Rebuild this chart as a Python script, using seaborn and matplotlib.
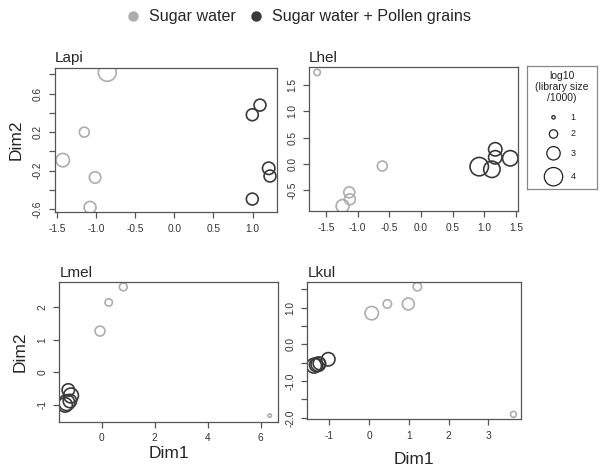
import numpy as np
import pandas as pd
import matplotlib
matplotlib.use("Agg")
import matplotlib.pyplot as plt
from matplotlib.lines import Line2D
import seaborn as sns

sns.set_style("white")
plt.rcParams["font.family"] = ["Liberation Sans", "DejaVu Sans"]
plt.rcParams["axes.unicode_minus"] = False

groups = ["Sugar water", "Sugar water + Pollen grains"]
colors = {"Sugar water": "#adadad", "Sugar water + Pollen grains": "#3a3a3a"}

# ---- data (Dim1, Dim2, log10(library size/1000), group) ----
lapi_x = [-0.855, -1.148, -1.423, -1.011, -1.075, 1.093, 0.995, 1.204, 1.221, 0.995]
lapi_y = [0.82, 0.20, -0.09, -0.27, -0.58, 0.48, 0.38, -0.175, -0.255, -0.494]
lapi_lib = [3.9, 2.3, 3.0, 2.6, 2.7, 2.7, 2.7, 2.8, 2.7, 2.7]
lapi_grp = [0, 0, 0, 0, 0, 1, 1, 1, 1, 1]

lhel_x = [-1.64, -0.612, -1.134, -1.123, -1.239, 0.918, 1.118, 1.171, 1.171, 1.408]
lhel_y = [1.74, -0.043, -0.544, -0.677, -0.805, -0.055, -0.106, 0.275, 0.123, 0.104]
lhel_lib = [1.6, 2.3, 2.5, 2.5, 2.9, 4.0, 3.6, 3.0, 3.0, 3.4]
lhel_grp = [0, 0, 0, 0, 0, 1, 1, 1, 1, 1]

lmel_x = [0.815, 0.264, -0.064, 6.34, -1.26, -1.16, -1.32, -1.20, -1.38]
lmel_y = [2.63, 2.15, 1.27, -1.33, -0.54, -0.71, -0.93, -0.88, -1.00]
lmel_lib = [1.9, 1.8, 2.3, 1.0, 2.8, 3.3, 3.5, 3.0, 3.2]
lmel_grp = [0, 0, 0, 0, 1, 1, 1, 1, 1]

lkul_x = [1.214, 0.459, 0.987, 0.067, 3.63, -1.025, -1.277, -1.385, -1.33, -1.25]
lkul_y = [1.57, 1.10, 1.10, 0.85, -1.905, -0.406, -0.54, -0.58, -0.56, -0.52]
lkul_lib = [2.0, 2.0, 2.7, 3.0, 1.5, 3.0, 3.2, 3.3, 3.0, 2.8]
lkul_grp = [0, 0, 0, 0, 0, 1, 1, 1, 1, 1]

legend_sizes = [1, 2, 3, 4]

panels = [
    dict(name="Lapi", x=lapi_x, y=lapi_y, lib=lapi_lib, grp=lapi_grp,
         rect=(54.7, 277.3, 67.7, 212.0), xlim=(-1.526, 1.314), ylim=(-0.628, 0.868),
         xticks=[-1.5, -1.0, -0.5, 0.0, 0.5, 1.0],
         xlabels=["-1.5", "-1.0", "-0.5", "0.0", "0.5", "1.0"],
         yticks=[-0.6, -0.4, -0.2, 0.0, 0.2, 0.4, 0.6, 0.8],
         ylabels=["-0.6", "", "-0.2", "", "0.2", "", "0.6", ""],
         xlab=False, ylab=True, xpad=0),
    dict(name="Lhel", x=lhel_x, y=lhel_y, lib=lhel_lib, grp=lhel_grp,
         rect=(309.0, 518.0, 67.3, 210.7), xlim=(-1.769, 1.53), ylim=(-0.894, 1.837),
         xticks=[-1.5, -1.0, -0.5, 0.0, 0.5, 1.0, 1.5],
         xlabels=["-1.5", "-1.0", "-0.5", "0.0", "0.5", "1.0", "1.5"],
         yticks=[-0.5, 0.0, 0.5, 1.0, 1.5],
         ylabels=["-0.5", "0.0", "0.5", "1.0", "1.5"],
         xlab=False, ylab=False, xpad=0),
    dict(name="Lmel", x=lmel_x, y=lmel_y, lib=lmel_lib, grp=lmel_grp,
         rect=(59.3, 277.7, 282.3, 421.5), xlim=(-1.6, 6.64), ylim=(-1.51, 2.77),
         xticks=[0, 2, 4, 6], xlabels=["0", "2", "4", "6"],
         yticks=[-1, 0, 1, 2], ylabels=["-1", "0", "1", "2"],
         xlab=True, ylab=True, xpad=2),
    dict(name="Lkul", x=lkul_x, y=lkul_y, lib=lkul_lib, grp=lkul_grp,
         rect=(307.3, 521.0, 282.3, 419.3), xlim=(-1.553, 3.82), ylim=(-2.04, 1.69),
         xticks=[-1, 0, 1, 2, 3], xlabels=["-1", "0", "1", "2", "3"],
         yticks=[-2.0, -1.5, -1.0, -0.5, 0.0, 0.5, 1.0, 1.5],
         ylabels=["-2.0", "", "-1.0", "", "0.0", "", "1.0", ""],
         xlab=True, ylab=False, xpad=8),
]

W, H = 603, 467
fig = plt.figure(figsize=(W / 100, H / 100), dpi=100)


def area(v):
    d_px = 5.0 * np.asarray(v, dtype=float) - 1.6
    return (d_px * 0.72) ** 2


def px_rect(l, r, t, b):
    return [l / W, 1 - b / H, (r - l) / W, (b - t) / H]


spine_col = "#555555"
for p in panels:
    ax = fig.add_axes(px_rect(*p["rect"]))
    df = pd.DataFrame({"Dim1": p["x"], "Dim2": p["y"], "lib": p["lib"],
                       "group": [groups[g] for g in p["grp"]]})
    for g in groups:
        sub = df[df["group"] == g]
        sns.scatterplot(data=sub, x="Dim1", y="Dim2", ax=ax, s=area(sub["lib"]),
                        facecolors="none", edgecolor=colors[g], linewidth=1.2,
                        legend=False)
    ax.set_xlim(*p["xlim"])
    ax.set_ylim(*p["ylim"])
    ax.set_xticks(p["xticks"])
    ax.set_xticklabels(p["xlabels"], fontsize=7.3, color="#333333")
    ax.set_yticks(p["yticks"])
    ax.set_yticklabels(p["ylabels"], fontsize=7.3, color="#333333", rotation=90, va="center")
    ax.tick_params(axis="both", direction="out", length=4, width=0.9, color=spine_col, pad=4.5,
                   bottom=True, left=True)
    for sp in ax.spines.values():
        sp.set_color(spine_col)
        sp.set_linewidth(0.9)
        sp.set_visible(True)
    ax.set_title(p["name"], loc="left", fontsize=11, pad=4)
    ax.set_xlabel("Dim1" if p["xlab"] else "", fontsize=12.5, labelpad=p["xpad"])
    ax.set_ylabel("Dim2" if p["ylab"] else "", fontsize=12.5, labelpad=7)
    ax.set_facecolor("white")

# ---- size legend ----
lax = fig.add_axes(px_rect(527, 597, 66, 189))
lax.set_xlim(527, 597)
lax.set_ylim(189, 66)
ldf = pd.DataFrame({"x": [553.5] * 4, "y": [117.3, 134.0, 153.3, 176.7], "lib": legend_sizes})
sns.scatterplot(data=ldf, x="x", y="y", ax=lax, s=area(ldf["lib"]), facecolors="none",
                edgecolor="#222222", linewidth=0.9, legend=False)
for yy, v in zip(ldf["y"], legend_sizes):
    lax.text(573, yy, str(v), fontsize=6.5, va="center", ha="center", color="#222222")
lax.text(562, 87, "log10\n(library size\n/1000)", fontsize=7.5, ha="center", va="center",
         linespacing=1.15, color="#222222")
lax.set_xticks([])
lax.set_yticks([])
lax.set_xlabel("")
lax.set_ylabel("")
for sp in lax.spines.values():
    sp.set_color("#888888")
    sp.set_linewidth(0.9)
    sp.set_visible(True)

# ---- group legend ----
handles = [Line2D([], [], marker="o", linestyle="none", markersize=6.5,
                  markerfacecolor=colors[g], markeredgecolor=colors[g]) for g in groups]
fig.legend(handles, groups, loc="center", bbox_to_anchor=(0.494, 1 - 17 / H), ncol=2,
           frameon=False, fontsize=11.6, handletextpad=0.45, columnspacing=0.8, handlelength=1.0)

fig.savefig("out.png", dpi=100, facecolor="white")
